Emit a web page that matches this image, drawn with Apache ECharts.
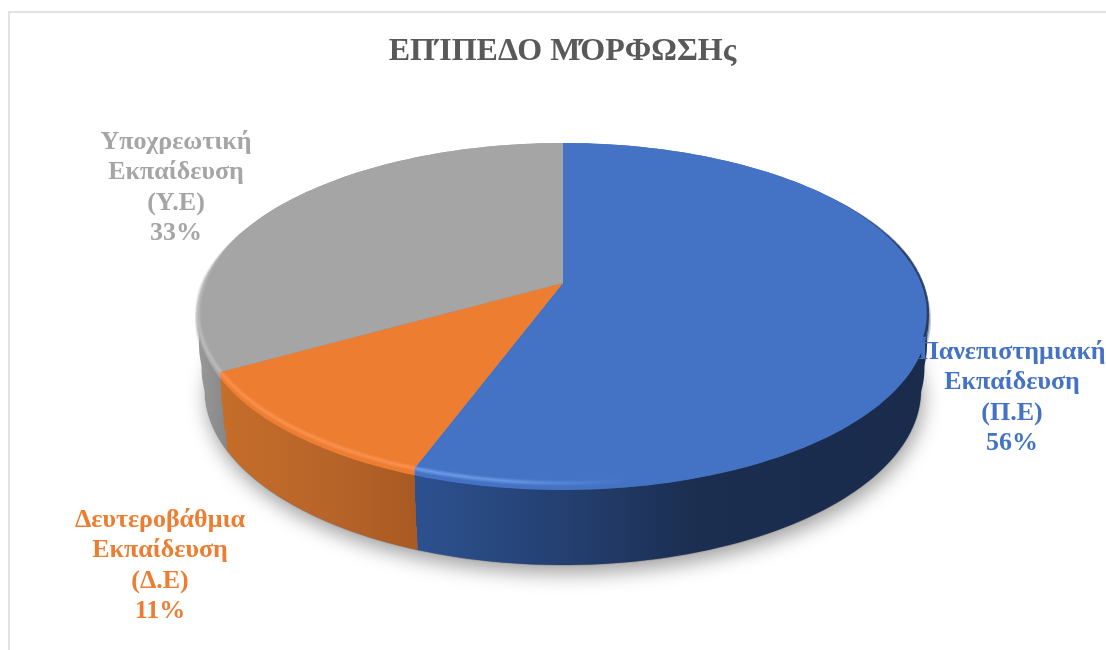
<!DOCTYPE html>
<html><head><meta charset="utf-8">
<style>html,body{margin:0;padding:0;background:#fff}#c{width:1106px;height:650px}</style>
<script src="https://cdn.jsdelivr.net/npm/echarts@6/dist/echarts.min.js"></script>
</head><body><div id="c"></div>
<script>
const titleText = 'ΕΠΊΠΕΔΟ ΜΌΡΦΩΣΗς';
const categories = ['Πανεπιστημιακή\nΕκπαίδευση\n(Π.Ε)', 'Δευτεροβάθμια\nΕκπαίδευση\n(Δ.Ε)', 'Υποχρεωτική\nΕκπαίδευση\n(Υ.Ε)'];
const values = [55.6, 11.2, 33.2];
const faceColors = ['#4472c4', '#ed7d31', '#a5a5a5'];
const labelAnchors = [[1012, 398], [160, 566], [176, 188]];

// Layout of the tilted disc
const TOP = {cx: 563, cy: 313, rx: 365, ry: 170};
const EDGE = {cx: 563, cy: 320, rx: 365, ry: 170};   // lower lip of the bevel
const WALL_LAYERS = [
  {cx: 563, cy: 390, rx: 358, ry: 175},
  {cx: 563, cy: 368, rx: 361.5, ry: 173.5},
  {cx: 563, cy: 345, rx: 364, ry: 172}
];
const BOT = WALL_LAYERS[0];
const APEX_SHIFT = 0.176;
const APEX = [563, 283];

const total = values.reduce((a, b) => a + b, 0);
function unit(deg) {
  const t = deg * Math.PI / 180, x = Math.sin(t), y = Math.cos(t), a = APEX_SHIFT;
  const d = 1 + a * y;
  return [x * Math.sqrt(1 - a * a) / d, (y + a) / d];
}
function pt(e, deg) { const u = unit(deg); return [e.cx + e.rx * u[0], e.cy - e.ry * u[1]]; }
function arc(e, a0, a1) {
  const out = [], n = Math.max(2, Math.ceil(Math.abs(a1 - a0) / 1.5));
  for (let i = 0; i <= n; i++) out.push(pt(e, a0 + (a1 - a0) * i / n));
  return out;
}
function grad(stops, x0, x1) {
  return {type: 'linear', x: x0, y: 0, x2: x1, y2: 0, global: true,
    colorStops: stops.map(s => ({offset: s[0], color: s[1]}))};
}
const wallFill = [
  grad([[0,'#2d5190'],[0.3,'#243f70'],[0.55,'#1b2e50'],[1,'#1a2b4c']], 415, 925),
  grad([[0,'#c56d2a'],[0.5,'#b9652a'],[1,'#a85a22']], 222, 418),
  grad([[0,'#9a9a9a'],[1,'#858585']], 197, 230)
];
const rimStroke = [
  grad([[0,'#74a2f0'],[0.18,'#6a9ae8'],[0.42,'#4472c4'],[1,'#4472c4']], 415, 925),
  grad([[0,'#fb9350'],[1,'#fb9350']], 222, 418),
  grad([[0,'#bdbdbd'],[1,'#bdbdbd']], 197, 230)
];
const RIM_FADE = 25;

function renderItem(params, api) {
  const i = params.dataIndex;
  const v = api.value(0);
  let before = 0;
  for (let k = 0; k < i; k++) before += values[k];
  const a0 = before / total * 360, a1 = (before + v) / total * 360;
  const topArc = arc(TOP, a0, a1), edgeArc = arc(EDGE, a0, a1), botArc = arc(BOT, a0, a1);
  const children = [];
  if (i === 0) {
    children.push({type: 'polygon', z2: 0, shape: {points: arc(BOT, 0, 360)},
      style: {fill: '#888', shadowBlur: 20, shadowColor: 'rgba(0,0,0,0.38)', shadowOffsetY: 8, shadowOffsetX: 2}});
  }
  // darker lower lip of the wall
  children.push({type: 'polyline', z2: 1, shape: {points: botArc},
    style: {fill: 'none', stroke: 'rgba(0,0,0,0.16)', lineWidth: 1.5}});
  // wall: nested layers from the bevel down, so there is no seam
  WALL_LAYERS.forEach((layer, n) => {
    children.push({type: 'polygon', z2: 2 + n * 0.1,
      shape: {points: edgeArc.concat(arc(layer, a0, a1).reverse())},
      style: {fill: wallFill[i]}});
  });
  // soft transition between bevel and wall
  [[6, 0.25], [3, 0.45]].forEach(s => {
    children.push({type: 'polyline', z2: 3, shape: {points: edgeArc},
      style: {fill: 'none', stroke: wallFill[i], lineWidth: s[0], opacity: s[1]}});
  });
  children.push({type: 'polygon', z2: 4, shape: {points: topArc.concat(edgeArc.slice().reverse())},
    style: {fill: faceColors[i]}});
  children.push({type: 'polygon', z2: 5, shape: {points: [APEX].concat(topArc)},
    style: {fill: faceColors[i]}});
  // bevel highlight along the visible front part of the rim, fading towards the back
  let r0 = a0, r1 = a1, fadeEnd = false;
  if (i === 0) { r0 = 110; }
  if (i === 2) { r1 = 295; fadeEnd = true; }
  const step = 2;
  for (let a = r0; a < r1 - 0.001; a += step) {
    const b = Math.min(r1, a + step);
    let k = 1;
    if (fadeEnd) k = Math.min(1, (r1 - b) / RIM_FADE);
    if (k <= 0) continue;
    const seg = arc(TOP, a, b);
    [[6, 0.22], [4, 0.4], [1.6, 0.7]].forEach(s => {
      children.push({type: 'polyline', z2: 6, shape: {points: seg},
        style: {fill: 'none', stroke: rimStroke[i], lineWidth: s[0] * k, opacity: s[1] * k, lineCap: 'butt'}});
    });
  }
  // thin dark outline on the upper right of the disc
  if (i === 0) {
    for (let a = 48; a < 108; a += step) {
      const k = Math.min(1, (a - 48) / 30);
      children.push({type: 'polyline', z2: 6, shape: {points: arc(TOP, a, a + step)},
        style: {fill: 'none', stroke: '#1c2f52', lineWidth: 2.4 * k, opacity: 0.8 * k, lineCap: 'butt'}});
    }
  }
  children.push({type: 'text', z2: 10, style: {
    x: labelAnchors[i][0], y: labelAnchors[i][1],
    text: categories[i] + '\n' + Math.round(v) + '%',
    fill: faceColors[i], align: 'center', verticalAlign: 'middle',
    font: 'bold 26px "Liberation Serif"', lineHeight: 30.5
  }});
  return {type: 'group', children};
}

const chart = echarts.init(document.getElementById('c'), null, {renderer: 'canvas'});
chart.setOption({
  animation: false,
  backgroundColor: '#fff',
  title: {text: titleText, left: 557.5, top: 31, textAlign: 'center',
    textStyle: {fontFamily: 'Liberation Serif', fontWeight: 'bold', fontSize: 32, color: '#595959'}},
  graphic: [{type: 'polyline', shape: {points: [[9, 650], [9, 12], [1106, 12]]}, silent: true,
    style: {fill: 'none', stroke: '#d9d9d9', lineWidth: 1.5}}],
  series: [{type: 'custom', coordinateSystem: 'none', renderItem, clip: false,
    data: values.map((v, i) => ({value: [v], name: categories[i]}))}]
});
</script></body></html>
